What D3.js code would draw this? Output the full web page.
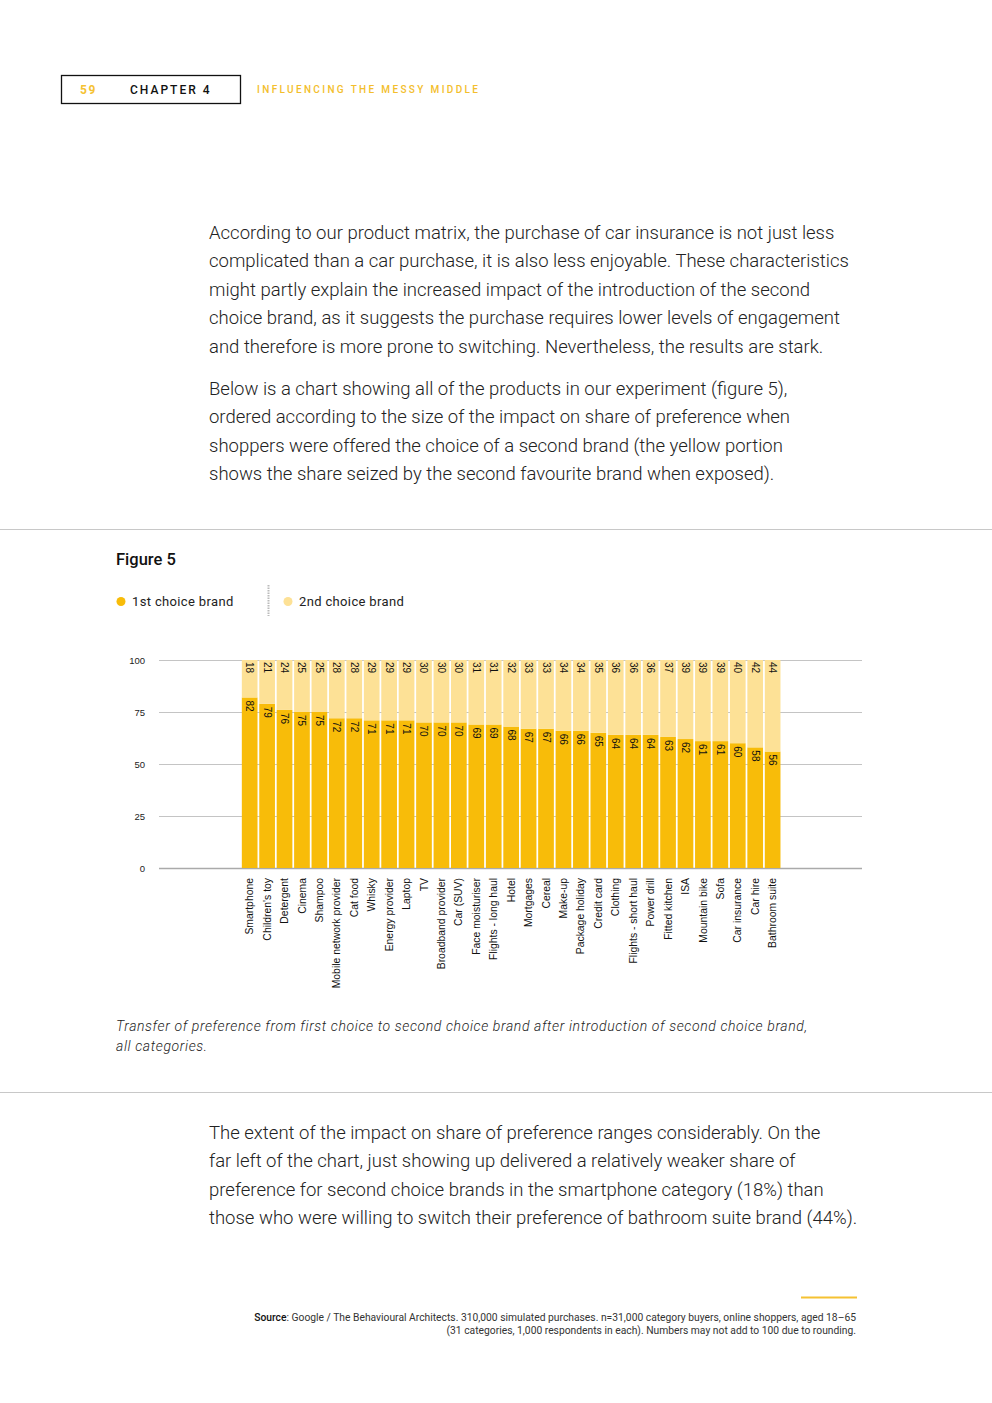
<!DOCTYPE html>
<html><head><meta charset="utf-8">
<script src="https://cdn.jsdelivr.net/npm/d3@7"></script>
<style>
html,body{margin:0;padding:0;background:#fff;}
svg{display:block;}
</style></head>
<body>
<script>
const categories = ["Smartphone","Children's toy","Detergent","Cinema","Shampoo","Mobile network provider","Cat food","Whisky","Energy provider","Laptop","TV","Broadband provider","Car (SUV)","Face moisturiser","Flights - long haul","Hotel","Mortgages","Cereal","Make-up","Package holiday","Credit card","Clothing","Flights - short haul","Power drill","Fitted kitchen","ISA","Mountain bike","Sofa","Car insurance","Car hire","Bathroom suite"];
const firstChoice = [82,79,76,75,75,72,72,71,71,71,70,70,70,69,69,68,67,67,66,66,65,64,64,64,63,62,61,61,60,58,56];
const secondChoice = [18,21,24,25,25,28,28,29,29,29,30,30,30,31,31,32,33,33,34,34,35,36,36,36,37,39,39,39,40,42,44];
const yTicks = [0,25,50,75,100];
const seriesNames = ["1st choice brand","2nd choice brand"];

const W=992,H=1403;
const C1="#F8BC09", C2="#FDE196", YEL="#F5C232";
const svg=d3.select("body").append("svg").attr("width",W).attr("height",H);

// header
svg.append("rect").attr("x",61.5).attr("y",75.5).attr("width",179).attr("height",28).attr("fill","none").attr("stroke","#111").attr("stroke-width",1.3);
svg.append("text").attr("x",80).attr("y",94).text("59").attr("font-family","Roboto").attr("font-weight",700).attr("font-size",12).attr("letter-spacing",1.5).attr("fill",YEL);
svg.append("text").attr("x",130).attr("y",94).text("CHAPTER 4").attr("font-family","Roboto").attr("font-weight",500).attr("font-size",12).attr("letter-spacing",2).attr("fill","#111");
svg.append("text").attr("x",257).attr("y",93).text("INFLUENCING THE MESSY MIDDLE").attr("font-family","Roboto").attr("font-weight",500).attr("font-size",10).attr("letter-spacing",2.35).attr("fill","#F3BE2C");

// body text
function para(lines,x,y0,lh){
  lines.forEach((l,i)=>svg.append("text").attr("x",x).attr("y",y0+i*lh).text(l)
    .attr("font-family","Roboto").attr("font-weight",300).attr("font-size",18.5).attr("fill","#222"));
}
para(["According to our product matrix, the purchase of car insurance is not just less",
"complicated than a car purchase, it is also less enjoyable. These characteristics",
"might partly explain the increased impact of the introduction of the second",
"choice brand, as it suggests the purchase requires lower levels of engagement",
"and therefore is more prone to switching. Nevertheless, the results are stark."],209,239,28.4);
para(["Below is a chart showing all of the products in our experiment (figure 5),",
"ordered according to the size of the impact on share of preference when",
"shoppers were offered the choice of a second brand (the yellow portion",
"shows the share seized by the second favourite brand when exposed)."],209,395,28.4);
para(["The extent of the impact on share of preference ranges considerably. On the",
"far left of the chart, just showing up delivered a relatively weaker share of",
"preference for second choice brands in the smartphone category (18%) than",
"those who were willing to switch their preference of bathroom suite brand (44%)."],209,1139,28.4);

// separators
svg.append("line").attr("x1",0).attr("x2",W).attr("y1",529.5).attr("y2",529.5).attr("stroke","#c8c8c8");
svg.append("line").attr("x1",0).attr("x2",W).attr("y1",1092.5).attr("y2",1092.5).attr("stroke","#c8c8c8");

// Figure title + legend
svg.append("text").attr("x",116).attr("y",565).text("Figure 5").attr("font-family","Roboto").attr("font-weight",500).attr("font-size",16.5).attr("fill","#111");
const legend = [{x:121,tx:132,c:C1,name:seriesNames[0]},{x:288,tx:299,c:C2,name:seriesNames[1]}];
legend.forEach(d=>{
  svg.append("circle").attr("cx",d.x).attr("cy",601.5).attr("r",4.5).attr("fill",d.c);
  svg.append("text").attr("x",d.tx).attr("y",605.5).text(d.name).attr("font-family","Roboto").attr("font-size",13).attr("letter-spacing",0.35).attr("fill","#222");
});
svg.append("line").attr("x1",268.5).attr("x2",268.5).attr("y1",585).attr("y2",616).attr("stroke","#bbb").attr("stroke-width",2).attr("stroke-dasharray","1.5,1");

// chart
const y=d3.scaleLinear().domain([0,100]).range([868,660]);
const x=d3.scaleBand().domain(categories).range([241.3,781]).paddingInner(0.1).paddingOuter(0.03);
const g=svg.append("g");
g.selectAll("line.grid").data(yTicks).join("line").attr("class","grid")
  .attr("x1",159).attr("x2",862).attr("y1",d=>Math.round(y(d))+0.5).attr("y2",d=>Math.round(y(d))+0.5)
  .attr("stroke",d=>d===0?"#aaa":"#c4c4c4").attr("stroke-width",d=>d===0?1.5:1);
g.selectAll("text.tick").data(yTicks).join("text").attr("class","tick")
  .attr("x",145).attr("y",d=>y(d)+3.5).attr("text-anchor","end").text(d=>d)
  .attr("font-family","Liberation Sans, Arial").attr("font-size",9.5).attr("fill","#222");

const data=categories.map((c,i)=>({c,a:firstChoice[i],b:secondChoice[i],top:Math.min(100,firstChoice[i]+secondChoice[i])}));
g.selectAll("rect.a").data(data).join("rect").attr("x",d=>x(d.c)).attr("width",x.bandwidth())
  .attr("y",d=>y(d.a)).attr("height",d=>y(0)-y(d.a)).attr("fill",C1);
g.selectAll("rect.b").data(data).join("rect").attr("x",d=>x(d.c)).attr("width",x.bandwidth())
  .attr("y",d=>y(d.top)).attr("height",d=>y(d.a)-y(d.top)).attr("fill",C2);

const lf="Liberation Sans, Arial";
g.selectAll("text.va").data(data).join("text")
  .attr("transform",d=>`translate(${x(d.c)+x.bandwidth()/2-3.5},${y(d.a)+3}) rotate(90)`)
  .text(d=>d.a).attr("font-family",lf).attr("font-size",10).attr("fill","#111");
g.selectAll("text.vb").data(data).join("text")
  .attr("transform",d=>`translate(${x(d.c)+x.bandwidth()/2-3.5},${y(d.top)+2}) rotate(90)`)
  .text(d=>d.b).attr("font-family",lf).attr("font-size",10).attr("fill","#111");
g.selectAll("text.cat").data(data).join("text")
  .attr("transform",d=>`translate(${x(d.c)+x.bandwidth()/2+3.6},878) rotate(-90)`)
  .attr("text-anchor","end").text(d=>d.c).attr("font-family",lf).attr("font-size",10.4).attr("fill","#111");

// caption
["Transfer of preference from first choice to second choice brand after introduction of second choice brand,","all categories."].forEach((t,i)=>
  svg.append("text").attr("x",116).attr("y",1031+i*20).text(t).attr("font-family","Roboto").attr("font-style","italic").attr("font-weight",300).attr("font-size",14).attr("letter-spacing",0.62).attr("fill","#222"));

// source
svg.append("line").attr("x1",801).attr("x2",857).attr("y1",1297.5).attr("y2",1297.5).attr("stroke",YEL).attr("stroke-width",2);
const s1=svg.append("text").attr("x",856).attr("y",1321).attr("text-anchor","end").attr("font-family","Roboto").attr("font-size",10.3).attr("fill","#333");
s1.append("tspan").attr("font-weight",500).attr("fill","#111").text("Source");
s1.append("tspan").text(": Google / The Behavioural Architects. 310,000 simulated purchases. n=31,000 category buyers, online shoppers, aged 18–65");
svg.append("text").attr("x",856).attr("y",1334).attr("text-anchor","end").attr("font-family","Roboto").attr("font-size",10.3).attr("fill","#333")
  .text("(31 categories, 1,000 respondents in each). Numbers may not add to 100 due to rounding.");
</script>
</body></html>
